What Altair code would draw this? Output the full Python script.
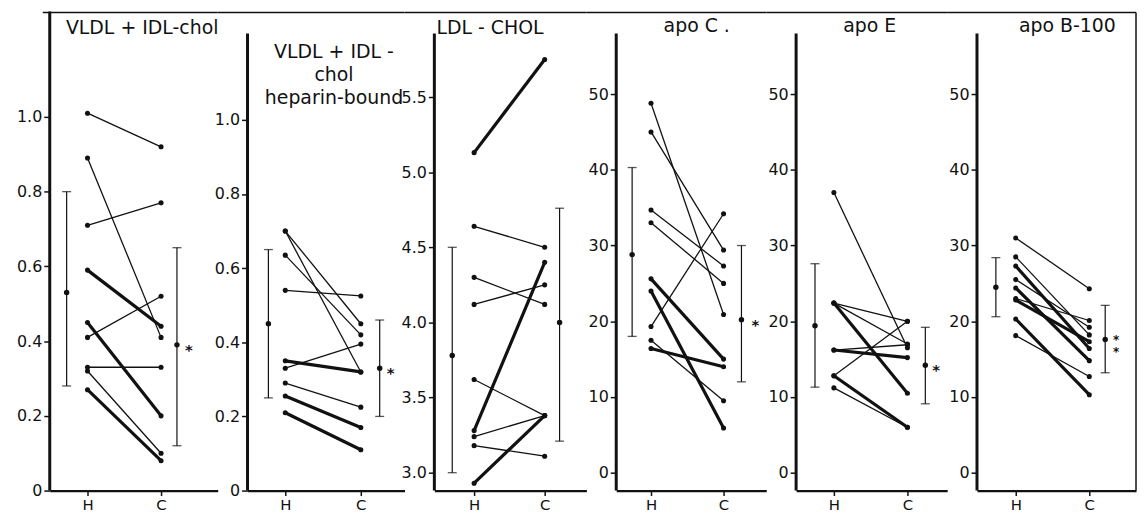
import altair as alt
import pandas as pd

FONT = "DejaVu Sans"
BLACK = "#111111"

# ---------------- data ----------------
# 1) VLDL + IDL-chol
vldl_h = [1.01, 0.89, 0.71, 0.59, 0.41, 0.45, 0.33, 0.32, 0.27]
vldl_c = [0.92, 0.41, 0.77, 0.44, 0.52, 0.20, 0.33, 0.10, 0.08]
vldl_thick = [0, 0, 0, 1, 0, 1, 0, 0, 1]
vldl_mean = [0.53, 0.39]
vldl_low = [0.28, 0.12]
vldl_high = [0.80, 0.65]

# 2) VLDL + IDL-chol heparin-bound
hep_h = [0.70, 0.70, 0.635, 0.54, 0.35, 0.33, 0.29, 0.255, 0.21]
hep_c = [0.45, 0.32, 0.42, 0.525, 0.32, 0.395, 0.225, 0.17, 0.11]
hep_thick = [0, 0, 0, 0, 1, 0, 0, 1, 1]
hep_mean = [0.45, 0.33]
hep_low = [0.25, 0.20]
hep_high = [0.65, 0.46]

# 3) LDL-CHOL
ldl_h = [5.13, 4.64, 4.30, 4.12, 3.62, 3.28, 3.24, 3.18, 2.93]
ldl_c = [5.75, 4.50, 4.12, 4.25, 3.38, 4.40, 3.38, 3.11, 3.38]
ldl_thick = [1, 0, 0, 0, 0, 1, 0, 0, 1]
ldl_mean = [3.78, 4.00]
ldl_low = [3.00, 3.21]
ldl_high = [4.50, 4.76]

# 4) apo C
apoc_h = [48.8, 45.0, 34.7, 33.0, 25.6, 24.0, 19.3, 17.5, 16.4]
apoc_c = [20.9, 29.4, 27.3, 25.0, 15.0, 5.9, 34.2, 9.5, 14.0]
apoc_thick = [0, 0, 0, 0, 1, 1, 0, 0, 1]
apoc_mean = [28.8, 20.2]
apoc_low = [18.0, 12.0]
apoc_high = [40.3, 30.0]

# 5) apo E
apoe_h = [37.0, 22.4, 22.4, 22.4, 16.2, 16.2, 12.8, 12.8, 11.2]
apoe_c = [16.5, 20.0, 17.0, 10.5, 16.9, 15.2, 20.0, 6.0, 6.0]
apoe_thick = [0, 0, 0, 1, 0, 1, 0, 1, 0]
apoe_mean = [19.4, 14.2]
apoe_low = [11.3, 9.1]
apoe_high = [27.6, 19.2]

# 6) apo B-100
apob_h = [31.0, 28.5, 27.3, 25.5, 24.4, 23.0, 22.8, 20.3, 18.1]
apob_c = [24.3, 18.2, 16.4, 19.2, 14.8, 20.1, 17.3, 10.3, 12.7]
apob_thick = [0, 0, 1, 0, 1, 0, 1, 1, 0]
apob_mean = [24.5, 17.6]
apob_low = [20.6, 13.2]
apob_high = [28.4, 22.1]

titles = [
    "VLDL + IDL-chol",
    "VLDL + IDL -\nchol\nheparin-bound",
    "LDL - CHOL",
    "apo  C .",
    "apo  E",
    "apo  B-100",
]
stars = ["*", "*", "", "*", "*", "*\n*"]
group_labels = ["H", "C"]
ticks_frac = [0, 0.2, 0.4, 0.6, 0.8, 1.0]
ticks_ldl = [3.0, 3.5, 4.0, 4.5, 5.0, 5.5]
ticks_apo = [0, 10, 20, 30, 40, 50]

# ---------------- layout (pixels) ----------------
PLOT_H = 482
SPACING = 30
layouts = [
    dict(w=169, H=38, C=112, bH=17, bC=128, star=140, ydom=[0, 1.282], ticks=ticks_frac,
         lab="datum.value == 0 ? '0' : format(datum.value, '.1f')", top=0, tx=93, ty=17, left=-7, ext=42),
    dict(w=158, H=38, C=114, bH=21, bC=133, star=144, ydom=[0, 1.292], ticks=ticks_frac,
         lab="datum.value == 0 ? '0' : format(datum.value, '.1f')", top=22, tx=87, ty=41, left=-SPACING, ext=0),
    dict(w=153, H=40, C=111, bH=18, bC=126, star=140, ydom=[2.881, 6.069], ticks=ticks_ldl,
         lab="format(datum.value, '.1f')", top=22, tx=56, ty=17, left=-SPACING, ext=0),
    dict(w=151, H=35, C=108, bH=16, bC=126, star=140, ydom=[-2.36, 60.9], ticks=ticks_apo,
         lab="format(datum.value, 'd')", top=22, tx=81, ty=15, left=-SPACING, ext=0),
    dict(w=152, H=38, C=112, bH=19, bC=130, star=141, ydom=[-2.36, 60.9], ticks=ticks_apo,
         lab="format(datum.value, 'd')", top=22, tx=74, ty=15, left=-SPACING, ext=0),
    dict(w=160, H=39, C=113, bH=19, bC=129, star=140, ydom=[-2.36, 60.9], ticks=ticks_apo,
         lab="format(datum.value, 'd')", top=22, tx=91, ty=15, left=-SPACING, ext=0),
]

series = [
    (vldl_h, vldl_c, vldl_thick, vldl_mean, vldl_low, vldl_high),
    (hep_h, hep_c, hep_thick, hep_mean, hep_low, hep_high),
    (ldl_h, ldl_c, ldl_thick, ldl_mean, ldl_low, ldl_high),
    (apoc_h, apoc_c, apoc_thick, apoc_mean, apoc_low, apoc_high),
    (apoe_h, apoe_c, apoe_thick, apoe_mean, apoe_low, apoe_high),
    (apob_h, apob_c, apob_thick, apob_mean, apob_low, apob_high),
]

one = pd.DataFrame({"k": [0]})


def make_panel(idx):
    h, c, thick, mean, low, high = series[idx]
    L = layouts[idx]
    W = L["w"]
    s = float(L["C"] - L["H"])
    xscale = alt.Scale(domain=[-L["H"] / s, (W - L["H"]) / s], nice=False, zero=False)
    yscale = alt.Scale(domain=L["ydom"], nice=False, zero=False)

    xaxis = alt.Axis(values=[0, 1], labelExpr="datum.value == 0 ? 'H' : 'C'", title=None,
                     grid=False, domain=True, domainColor=BLACK, domainWidth=2.2,
                     tickColor=BLACK, tickWidth=1.5, tickSize=5, labelFont=FONT,
                     labelFontSize=15, labelColor=BLACK, labelPadding=2)
    yaxis_kw = dict(values=L["ticks"], labelExpr=L["lab"], title=None, grid=False, domain=False,
                    tickColor=BLACK, tickWidth=1.5, tickSize=6, labelFont=FONT, labelFontSize=16,
                    labelColor=BLACK, labelPadding=2)
    if L["ext"]:
        yaxis_kw["minExtent"] = L["ext"]
    yaxis = alt.Axis(**yaxis_kw)

    rows = []
    for i, (a, b, t) in enumerate(zip(h, c, thick)):
        rows.append(dict(subj=i, x=0, grp=group_labels[0], v=a, thick=t))
        rows.append(dict(subj=i, x=1, grp=group_labels[1], v=b, thick=t))
    df = pd.DataFrame(rows)

    bx = [(L["bH"] - L["H"]) / s, (L["bC"] - L["H"]) / s]
    sdf = pd.DataFrame(dict(x=bx, grp=group_labels, mean=mean, low=low, high=high))
    stdf = pd.DataFrame(dict(x=[(L["star"] - L["H"]) / s], mean=[mean[1]]))

    X = alt.X("x:Q", scale=xscale, axis=xaxis)

    lines = alt.Chart(df).mark_line(color=BLACK).encode(
        x=X,
        y=alt.Y("v:Q", scale=yscale, axis=yaxis),
        detail="subj:N",
        strokeWidth=alt.StrokeWidth("thick:O", scale=alt.Scale(domain=[0, 1], range=[1.3, 3.2]), legend=None),
    )
    pts = alt.Chart(df).mark_circle(color=BLACK, size=26, opacity=1).encode(
        x=X, y=alt.Y("v:Q", scale=yscale, axis=yaxis)
    )
    bars = alt.Chart(sdf).mark_rule(color=BLACK, strokeWidth=1.2).encode(
        x=X, y=alt.Y("low:Q", scale=yscale, axis=yaxis), y2="high:Q"
    )
    cap_lo = alt.Chart(sdf).mark_tick(color=BLACK, orient="horizontal", size=9, thickness=1.3).encode(
        x=X, y=alt.Y("low:Q", scale=yscale, axis=yaxis)
    )
    cap_hi = alt.Chart(sdf).mark_tick(color=BLACK, orient="horizontal", size=9, thickness=1.3).encode(
        x=X, y=alt.Y("high:Q", scale=yscale, axis=yaxis)
    )
    means = alt.Chart(sdf).mark_circle(color=BLACK, size=30, opacity=1).encode(
        x=X, y=alt.Y("mean:Q", scale=yscale, axis=yaxis)
    )
    layers = [lines, pts, bars, cap_lo, cap_hi, means]

    if stars[idx]:
        nlines = stars[idx].count("\n") + 1
        fs = 15 if nlines == 1 else 12
        star = alt.Chart(stdf).mark_text(
            color=BLACK, font=FONT, fontSize=fs, fontWeight="bold", align="center", baseline="middle",
            lineBreak="\n", lineHeight=12, dy=5 if nlines == 1 else 1,
        ).encode(x=X, y=alt.Y("mean:Q", scale=yscale, axis=yaxis), text=alt.value(stars[idx]))
        layers.append(star)

    # frame and axis lines
    left_axis = alt.Chart(one).mark_rule(color=BLACK, strokeWidth=3).encode(
        x=alt.value(0), y=alt.value(L["top"]), y2=alt.value(PLOT_H)
    )
    top_line = alt.Chart(one).mark_rule(color=BLACK, strokeWidth=1.5).encode(
        x=alt.value(L["left"]), x2=alt.value(W), y=alt.value(1)
    )
    layers += [left_axis, top_line]
    if idx == len(layouts) - 1:
        right_line = alt.Chart(one).mark_rule(color=BLACK, strokeWidth=1.5).encode(
            x=alt.value(W), y=alt.value(1), y2=alt.value(PLOT_H)
        )
        layers.append(right_line)

    title = alt.Chart(one).mark_text(
        color=BLACK, font=FONT, fontSize=19, align="center", baseline="middle",
        lineBreak="\n", lineHeight=23,
    ).encode(x=alt.value(L["tx"]), y=alt.value(L["ty"]), text=alt.value(titles[idx]))
    layers.append(title)

    return alt.layer(*layers).properties(width=W, height=PLOT_H)


panels = [make_panel(i) for i in range(6)]
chart = alt.hconcat(*panels, spacing=SPACING, bounds="flush", padding=0).configure_view(stroke=None)
chart.save("out.html", embed_options={"renderer": "svg", "actions": False})
